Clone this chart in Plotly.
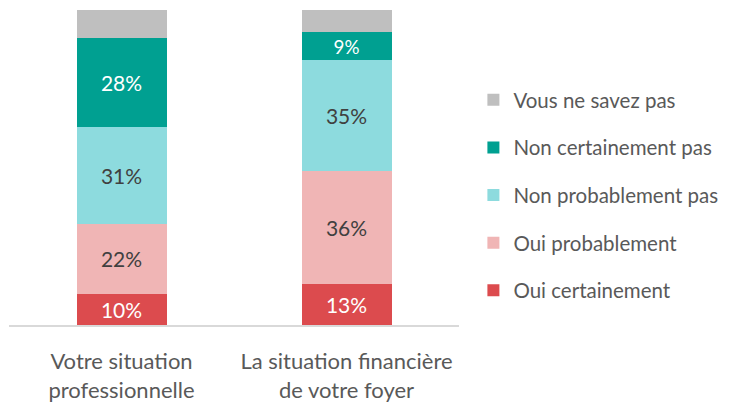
import plotly.graph_objects as go

categories = ["Votre situation<br>professionnelle", "La situation financière<br>de votre foyer"]
series_names = ["Oui certainement", "Oui probablement", "Non probablement pas",
                "Non certainement pas", "Vous ne savez pas"]
oui_certainement = [10, 13]
oui_probablement = [22, 36]
non_probablement_pas = [31, 35]
non_certainement_pas = [28, 9]
vous_ne_savez_pas = [9, 7]

series_values = [oui_certainement, oui_probablement, non_probablement_pas,
                 non_certainement_pas, vous_ne_savez_pas]
colors = ["#DC4B4E", "#F0B5B5", "#8DDBDE", "#00A091", "#BFBFBF"]
text_colors = ["#FFFFFF", "#404040", "#404040", "#FFFFFF", "#404040"]
show_text = [True, True, True, True, False]

FONT = "Lato"

fig = go.Figure()
n = len(series_names)
for i, (name, vals, col, tcol, st) in enumerate(zip(series_names, series_values, colors, text_colors, show_text)):
    fig.add_trace(go.Bar(
        x=categories, y=vals, name=name, legendgroup=name,
        legendrank=n - i,
        marker=dict(color=col, line=dict(width=0)),
        texttemplate="%{y}%" if st else None,
        textposition="inside" if st else "none",
        insidetextanchor="middle",
        textangle=0,
        insidetextfont=dict(family=FONT, size=21, color=tcol),
        width=0.4,
        hoverinfo="skip",
    ))

fig.update_layout(
    barmode="stack",
    width=734, height=406,
    margin=dict(l=1, r=283, t=2, b=89),
    paper_bgcolor="white", plot_bgcolor="white",
    font=dict(family=FONT, size=21, color="#595959"),
    legend=dict(
        x=1.032, y=0.778, xanchor="left", yanchor="top",
        traceorder="grouped", tracegroupgap=18,
        font=dict(family=FONT, size=20.5, color="#595959"),
        itemwidth=30,
    ),
)
fig.update_xaxes(
    range=[-0.5, 1.5], showline=True, linecolor="#D9D9D9", linewidth=2,
    ticks="", ticklabelstandoff=16, tickfont=dict(family=FONT, size=22, color="#595959"),
    showgrid=False, zeroline=False, fixedrange=True,
)
fig.update_yaxes(range=[0, 100], visible=False, showgrid=False, zeroline=False, fixedrange=True)

fig.write_html("out.html")
